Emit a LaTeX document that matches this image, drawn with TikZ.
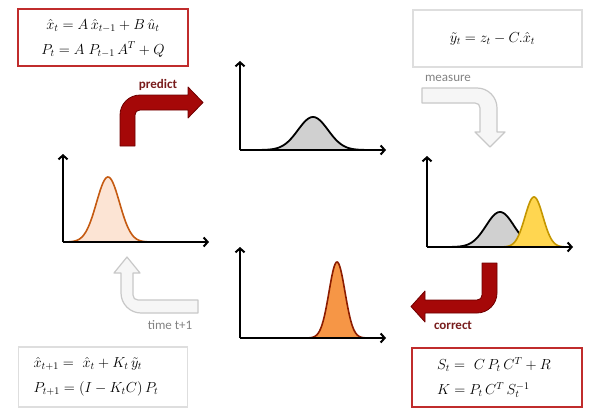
\RequirePackage{fix-cm}
\documentclass[tikz,border=0pt]{standalone}
\usepackage{fontspec}
\setsansfont{Carlito}
\usetikzlibrary{arrows.meta}
\definecolor{boxred}{RGB}{192,44,44}
\definecolor{boxgray}{RGB}{222,222,222}
\definecolor{arrred}{RGB}{165,8,8}
\definecolor{arrredline}{RGB}{110,0,0}
\definecolor{lblred}{RGB}{120,28,28}
\definecolor{arrgray}{RGB}{246,246,246}
\definecolor{arrgrayline}{RGB}{200,200,200}
\definecolor{lblgray}{RGB}{130,130,130}
\definecolor{peachfill}{RGB}{252,228,212}
\definecolor{peachline}{RGB}{197,90,17}
\definecolor{grayfill}{RGB}{208,208,208}
\definecolor{yellowfill}{RGB}{255,214,80}
\definecolor{yellowline}{RGB}{196,150,0}
\definecolor{orangefill}{RGB}{246,150,70}
\definecolor{orangeline}{RGB}{140,28,0}
\tikzset{
  redbox/.style={draw=boxred, line width=2pt, fill=white, minimum width=170pt, minimum height=57pt, inner sep=4pt},
  graybox/.style={draw=boxgray, line width=1.5pt, fill=white, minimum width=169pt, minimum height=57pt, inner sep=4pt},
  eqtext/.style={font=\fontsize{14.5}{25}\selectfont},
  axis/.style={line width=2pt, -{Straight Barb[length=4pt,width=9pt,line width=2pt]}},
  redarrow/.style={fill=arrred, draw=arrredline, line width=0.8pt, line join=round},
  grayarrow/.style={fill=arrgray, draw=arrgrayline, line width=1.2pt, line join=round},
  boldlbl/.style={font=\sffamily\bfseries\fontsize{13}{15}\selectfont, text=lblred},
  graylbl/.style={font=\sffamily\fontsize{13}{15}\selectfont, text=lblgray},
}
\begin{document}
\begin{tikzpicture}[x=1pt,y=-1pt]
\useasboundingbox (0,0) rectangle (589,420);

% ---------- equation boxes ----------
\node[redbox, eqtext, align=center] (predbox) at (103,38)
  {$\hat{x}_t = A\,\hat{x}_{t-1} + B\,\hat{u}_t$\\
   $P_t = A\;P_{t-1}\,A^T + Q$};
\node[graybox, eqtext] (measbox) at (497.5,38.5)
  {$\tilde{y}_t = z_t - C.\hat{x}_t$\hspace*{10pt}};
\node[graybox, eqtext, align=left, minimum height=60pt] (updbox) at (103,377)
  {$\hat{x}_{t+1} = \ \hat{x}_t + K_t\,\tilde{y}_t$\\
   $P_{t+1} = (I - K_t C)\,P_t$\hspace*{14pt}};
\node[redbox, eqtext, align=left, minimum height=59pt] (gainbox) at (497,377.5)
  {$S_t = \ C\,P_t\,C^T + R$\hspace*{6pt}\\
   $K = P_t\,C^T\,S_t^{-1}$};

% ---------- left plot: current estimate ----------
\coordinate (lo) at (63,242);
\fill[peachfill] (68,242) -- plot[domain=68:175, samples=90] (\x,{242-65*exp(-((\x-108)/11.5)^2/2)}) -- (175,242) -- cycle;
\draw[peachline, line width=1.6pt] plot[domain=68:175, samples=90] (\x,{242-65*exp(-((\x-108)/11.5)^2/2)});
\draw[axis] (lo) -- (63,154) coordinate (ly);
\draw[axis] (lo) -- (209,242) coordinate (lx);

% ---------- top plot: prediction ----------
\coordinate (to) at (240,150);
\fill[grayfill] (245,150) -- plot[domain=245:378, samples=90] (\x,{150-33*exp(-((\x-313)/15)^2/2)}) -- (378,150) -- cycle;
\draw[black, line width=1.8pt] plot[domain=245:378, samples=90] (\x,{150-33*exp(-((\x-313)/15)^2/2)});
\draw[axis] (to) -- (240,61) coordinate (ty);
\draw[axis] (to) -- (386,150) coordinate (tx);

% ---------- right plot: measurement ----------
\coordinate (ro) at (427,247);
\fill[grayfill] (432,247) -- plot[domain=432:560, samples=90] (\x,{247-35*exp(-((\x-500)/14)^2/2)}) -- (560,247) -- cycle;
\draw[black, line width=1.8pt] plot[domain=432:560, samples=90] (\x,{247-35*exp(-((\x-500)/14)^2/2)});
\fill[yellowfill] (500,247) -- plot[domain=500:568, samples=90] (\x,{247-50*exp(-((\x-534)/9)^2/2)}) -- (568,247) -- cycle;
\draw[yellowline, line width=1.6pt] plot[domain=500:568, samples=90] (\x,{247-50*exp(-((\x-534)/9)^2/2)});
\draw[axis] (ro) -- (427,156) coordinate (ry);
\draw[axis] (ro) -- (573,247) coordinate (rx);

% ---------- bottom plot: corrected ----------
\coordinate (bo) at (240,338);
\fill[orangefill] (300,338) -- plot[domain=300:375, samples=90] (\x,{338-76*exp(-((\x-337)/8)^2/2)}) -- (375,338) -- cycle;
\draw[orangeline, line width=1.6pt] plot[domain=300:375, samples=90] (\x,{338-76*exp(-((\x-337)/8)^2/2)});
\draw[axis] (bo) -- (240,247) coordinate (by);
\draw[axis] (bo) -- (386,338) coordinate (bx);

% ---------- predict arrow ----------
\draw[redarrow] (120,146) -- (120,115) .. controls (120,104) and (129,95) .. (140,95)
  -- (188,95) -- (188,87) -- (203,102.5) -- (188,118) -- (188,110) -- (140,110)
  .. controls (137,110) and (135,112) .. (135,115) -- (135,146) -- cycle;
\node[boldlbl] (predictlbl) at (158,85) {predict};

% ---------- measure arrow ----------
\draw[grayarrow] (422,88) -- (477,88) .. controls (488,88) and (497,97) .. (497,108)
  -- (497,132) -- (505,132) -- (490,147) -- (475,132) -- (480,132) -- (480,108)
  .. controls (480,105) and (478,103) .. (475,103) -- (422,103) -- cycle;
\node[graylbl] (measurelbl) at (448,78) {measure};

% ---------- correct arrow ----------
\draw[redarrow] (482,263) -- (497,263) -- (497,293) .. controls (497,304) and (488,313) .. (477,313)
  -- (425,313) -- (425,322) -- (411,306.5) -- (425,291) -- (425,300) -- (477,300)
  .. controls (480,300) and (482,298) .. (482,295) -- cycle;
\node[boldlbl] (correctlbl) at (453,325) {correct};

% ---------- time t+1 arrow ----------
\draw[grayarrow] (198,313) -- (141,313) .. controls (130,313) and (121,304) .. (121,293)
  -- (121,273) -- (114,273) -- (127,257) -- (140,273) -- (133,273) -- (133,295)
  .. controls (133,298) and (135,300) .. (138,300) -- (198,300) -- cycle;
\node[graylbl] (timelbl) at (170,325) {time t+1};
\end{tikzpicture}
\end{document}
